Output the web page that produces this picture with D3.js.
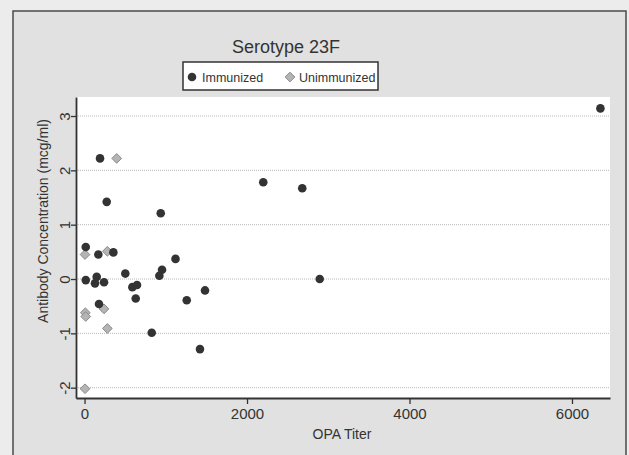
<!DOCTYPE html>
<html>
<head>
<meta charset="utf-8">
<script src="https://cdn.jsdelivr.net/npm/d3@7"></script>
<style>
	body { margin: 0; background: #ececec; }
	text { font-family: "Liberation Sans", Arial, sans-serif; fill: #333; }
</style>
</head>
<body>
<script>

// OPA titer / antibody concentration
var immunizedX = [191, 273, 938, 2200, 2680, 2895, 1483, 15, 170, 355, 1120, 15, 150, 129, 240, 502, 954, 921, 589, 646, 630, 178, 827, 1258, 1421, 6350];
var immunizedY = [2.22, 1.42, 1.21, 1.78, 1.67, 0.0, -0.21, 0.59, 0.45, 0.49, 0.37, -0.02, 0.04, -0.08, -0.06, 0.10, 0.17, 0.06, -0.15, -0.11, -0.36, -0.46, -0.99, -0.39, -1.29, 3.14];
var unimmunizedX = [396, 6, 281, 240, 10, 15, 281, 6];
var unimmunizedY = [2.22, 0.45, 0.51, -0.55, -0.62, -0.69, -0.91, -2.02];

var xTicks = [0, 2000, 4000, 6000];
var yTicks = [-2, -1, 0, 1, 2, 3];
var seriesNames = ["Immunized", "Unimmunized"];

function zip(xs, ys){
	var out = [];
	for (var i = 0; i < xs.length; i++){
		out.push([xs[i], ys[i]]);
	}
	return out;
}

// plain integers with an ascii minus, like stata prints them
function plainNum(d){ return String(d); }

function drawChart(){

	var width = 629, height = 455;
	// plot region inside the stata frame
	var plot = {left: 76, top: 97, right: 610, bottom: 398};
	var w = plot.right - plot.left,
		h = plot.bottom - plot.top;

	var svg = d3.select("body")
		.append("svg")
		.attr("width", width)
		.attr("height", height);

	// graph background and frame
	svg.append("rect")
		.attr("x", 13).attr("y", 11)
		.attr("width", 613).attr("height", 460)
		.attr("fill", "#e1e1e1")
		.attr("stroke", "#4a4a4a")
		.attr("stroke-width", 1.5);

	svg.append("rect")
		.attr("x", plot.left).attr("y", plot.top)
		.attr("width", w).attr("height", h)
		.attr("fill", "#ffffff");

	var xScale = d3.scaleLinear().domain([-105, 6468]).range([0, w]);
	var yScale = d3.scaleLinear().domain([-2.19, 3.35]).range([h, 0]);

	var g = svg.append("g")
		.attr("transform", "translate(" + plot.left + "," + plot.top + ")");

	// dotted gridlines
	g.selectAll(".grid")
		.data(yTicks)
		.enter()
		.append("line")
		.attr("class", "grid")
		.attr("x1", 0).attr("x2", w)
		.attr("y1", function(d){ return yScale(d); })
		.attr("y2", function(d){ return yScale(d); })
		.attr("stroke", "#b8b8b8")
		.attr("stroke-width", 1)
		.attr("stroke-dasharray", "1,1");

	// X axis
	var xAxis = d3.axisBottom(xScale).tickValues(xTicks).tickFormat(plainNum)
		.tickSize(6).tickSizeOuter(0).tickPadding(4);
	var gx = g.append("g")
		.attr("class", "x axis")
		.attr("transform", "translate(0," + h + ")")
		.call(xAxis);
	gx.select(".domain").attr("stroke", "#333").attr("stroke-width", 1.8);
	gx.selectAll(".tick line").attr("stroke", "#333").attr("stroke-width", 1.3);
	gx.selectAll(".tick text")
		.attr("font-size", "15px")
		.attr("font-family", "Liberation Sans, Arial, sans-serif")
		.attr("fill", "#333");

	// Y axis, labels turned like stata does
	var yAxis = d3.axisLeft(yScale).tickValues(yTicks).tickFormat(plainNum)
		.tickSize(5).tickSizeOuter(0).tickPadding(0);
	var gy = g.append("g")
		.attr("class", "y axis")
		.call(yAxis);
	gy.select(".domain").attr("stroke", "#333").attr("stroke-width", 1.8);
	gy.selectAll(".tick line").attr("stroke", "#333").attr("stroke-width", 1.3);
	gy.selectAll(".tick text")
		.attr("font-size", "15px")
		.attr("font-family", "Liberation Sans, Arial, sans-serif")
		.attr("fill", "#333")
		.attr("x", null).attr("dy", null)
		.attr("text-anchor", "middle")
		.attr("transform", "translate(-6,0) rotate(-90)");

	// points
	var symDiamond = d3.symbol().type(d3.symbolDiamond2).size(60);

	g.selectAll(".unim")
		.data(zip(unimmunizedX, unimmunizedY))
		.enter()
		.append("path")
		.attr("class", "unim")
		.attr("d", symDiamond)
		.attr("transform", function(d){ return "translate(" + xScale(d[0]) + "," + yScale(d[1]) + ")"; })
		.attr("fill", "#b4b4b4")
		.attr("stroke", "#8a8a8a")
		.attr("stroke-width", 1);

	g.selectAll(".imm")
		.data(zip(immunizedX, immunizedY))
		.enter()
		.append("circle")
		.attr("class", "imm")
		.attr("cx", function(d){ return xScale(d[0]); })
		.attr("cy", function(d){ return yScale(d[1]); })
		.attr("r", 4.3)
		.attr("fill", "#333333");

	// titles
	svg.append("text")
		.attr("x", 286).attr("y", 53)
		.attr("text-anchor", "middle")
		.attr("font-size", "18px")
		.text("Serotype 23F");

	svg.append("text")
		.attr("x", 342).attr("y", 439)
		.attr("text-anchor", "middle")
		.attr("font-size", "14px")
		.text("OPA Titer");

	svg.append("text")
		.attr("transform", "translate(48,221) rotate(-90)")
		.attr("text-anchor", "middle")
		.attr("font-size", "14px")
		.text("Antibody Concentration (mcg/ml)");

	// legend
	var legend = svg.append("g");
	legend.append("rect")
		.attr("x", 183).attr("y", 62)
		.attr("width", 195).attr("height", 28)
		.attr("fill", "#ffffff")
		.attr("stroke", "#333")
		.attr("stroke-width", 1.5);

	legend.append("circle")
		.attr("cx", 192).attr("cy", 77).attr("r", 4.3)
		.attr("fill", "#333333");
	legend.append("text")
		.attr("x", 202).attr("y", 82)
		.attr("font-size", "12.5px")
		.text(seriesNames[0]);

	legend.append("path")
		.attr("d", symDiamond)
		.attr("transform", "translate(290,77)")
		.attr("fill", "#b4b4b4")
		.attr("stroke", "#8a8a8a");
	legend.append("text")
		.attr("x", 299).attr("y", 82)
		.attr("font-size", "12.5px")
		.text(seriesNames[1]);
}

drawChart();

</script>
</body>
</html>
